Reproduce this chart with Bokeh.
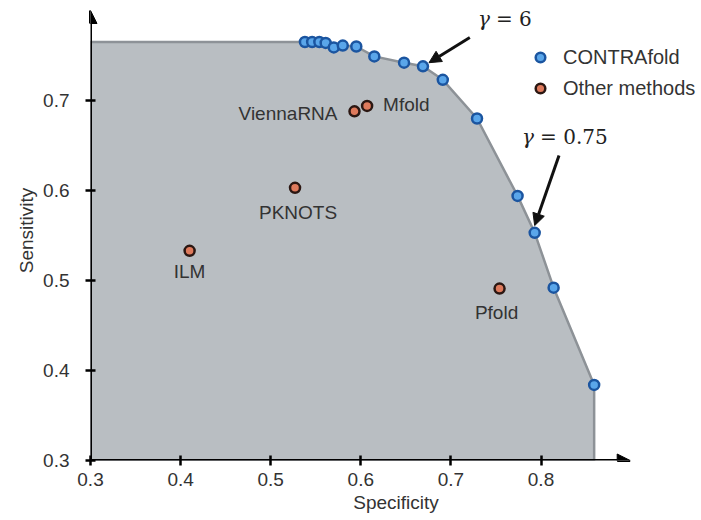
from bokeh.plotting import figure
from bokeh.models import (ColumnDataSource, Arrow, NormalHead, Legend, LegendItem,
                          FixedTicker)
from bokeh.core.properties import value
from bokeh.embed import file_html
from bokeh.resources import INLINE

# ---------------- data ----------------
contra_spec = [0.538, 0.546, 0.554, 0.561, 0.570, 0.580, 0.595, 0.615, 0.648,
               0.669, 0.691, 0.729, 0.774, 0.793, 0.814, 0.859]
contra_sens = [0.765, 0.765, 0.765, 0.764, 0.759, 0.761, 0.760, 0.749, 0.742,
               0.738, 0.723, 0.680, 0.594, 0.553, 0.492, 0.384]

other_names = ["ViennaRNA", "Mfold", "PKNOTS", "ILM", "Pfold"]
other_spec = [0.593, 0.607, 0.527, 0.410, 0.754]
other_sens = [0.688, 0.694, 0.603, 0.533, 0.491]

x_ticks = [0.3, 0.4, 0.5, 0.6, 0.7, 0.8]
y_ticks = [0.3, 0.4, 0.5, 0.6, 0.7]

gamma_symbol = ["γ", "γ"]
gamma_values = ["= 6", "= 0.75"]
gamma_index = [9, 13]            # which CONTRAfold point each label refers to
gamma_text_x = [0.730, 0.779]    # left edge of each label
gamma_text_y = [0.791, 0.660]
gamma_tail_x = [0.721, 0.820]
gamma_tail_y = [0.770, 0.639]

# ---------------- styles ----------------
label_dx = [-17, 16, 3, 0, -3]
label_dy = [2, -1, 25, 21, 24]
label_align = ["right", "left", "center", "center", "center"]

SANS = "Liberation Sans"
TXT = "#333333"

p = figure(width=701, height=520, output_backend="svg", toolbar_location=None,
           x_range=(0.3, 0.3 + 611 / 901), y_range=(0.3, 0.3 + 460 / 900),
           min_border_left=90, min_border_right=0, min_border_top=0,
           min_border_bottom=60)
p.outline_line_color = None
p.grid.visible = False
p.background_fill_color = "white"

# shaded region under the CONTRAfold curve
plateau = max(contra_sens)
poly_x = [0.3, 0.3] + contra_spec + [contra_spec[-1]]
poly_y = [0.3, plateau] + contra_sens + [0.3]
p.patch(poly_x, poly_y, fill_color="#b9bec2", line_color="#8d9297", line_width=2.5)

# axes
for ax in (p.xaxis[0], p.yaxis[0]):
    ax.axis_line_color = None
    ax.major_tick_in = 5
    ax.major_tick_out = 5
    ax.major_tick_line_width = 2.5
    ax.major_tick_line_color = "black"
    ax.minor_tick_line_color = None
    ax.major_label_text_font = SANS
    ax.major_label_text_font_size = "19px"
    ax.major_label_text_color = TXT
    ax.axis_label_text_font = SANS
    ax.axis_label_text_font_size = "19px"
    ax.axis_label_text_font_style = "normal"
    ax.axis_label_text_color = TXT
p.xaxis.ticker = FixedTicker(ticks=x_ticks)
p.yaxis.ticker = FixedTicker(ticks=y_ticks)
p.xaxis.axis_label = "Specificity"
p.yaxis.axis_label = "Sensitivity"
p.xaxis.major_label_standoff = 7
p.xaxis.axis_label_standoff = 3
p.yaxis.major_label_standoff = 16
p.yaxis.axis_label_standoff = 3

# axis arrows
p.add_layout(Arrow(x_start=0.3, y_start=0.3, x_end=0.899, y_end=0.3,
                   line_width=3, line_color="black",
                   end=NormalHead(size=13, fill_color="black", line_color="black")))
p.add_layout(Arrow(x_start=0.3, y_start=0.3, x_end=0.3, y_end=0.8,
                   line_width=3, line_color="black",
                   end=NormalHead(size=13, fill_color="black", line_color="black")))

# points
csrc = ColumnDataSource(dict(x=contra_spec, y=contra_sens))
osrc = ColumnDataSource(dict(x=other_spec, y=other_sens, name=other_names,
                             dx=label_dx, dy=label_dy, align=label_align))
r_c = p.scatter("x", "y", source=csrc, size=10, fill_color="#5aa6ea",
                line_color="#1b55a0", line_width=2.5)
r_o = p.scatter("x", "y", source=osrc, size=10, fill_color="#de7a5c",
                line_color="#2b1712", line_width=2.5)

p.text("x", "y", text="name", source=osrc, x_offset="dx", y_offset="dy",
       text_align="align", text_baseline="middle", text_font=value(SANS),
       text_font_size="19px", text_color=TXT)

# gamma annotations
for i, idx in enumerate(gamma_index):
    hx = contra_spec[idx] + (0.0067 if i == 0 else 0.0)
    hy = contra_sens[idx] + (0.004 if i == 0 else 0.008)
    p.add_layout(Arrow(x_start=gamma_tail_x[i], y_start=gamma_tail_y[i],
                       x_end=hx, y_end=hy, line_width=3, line_color="#111111",
                       end=NormalHead(size=12, fill_color="#111111",
                                      line_color="#111111")))
gsrc = ColumnDataSource(dict(x=gamma_text_x, y=gamma_text_y, s=gamma_symbol,
                             v=gamma_values))
p.text("x", "y", text="s", source=gsrc, text_align="left",
       text_baseline="middle", text_font=value("DejaVu Serif"),
       text_font_style="italic", text_font_size="20px", text_color="#222222")
p.text("x", "y", text="v", source=gsrc, text_align="left", x_offset=18,
       text_baseline="middle", text_font=value("DejaVu Serif"),
       text_font_size="20px", text_color="#222222")

legend = Legend(items=[LegendItem(label="CONTRAfold", renderers=[r_c]),
                       LegendItem(label="Other methods", renderers=[r_o])],
                location=(438, 360), padding=0, spacing=7,
                glyph_width=24, glyph_height=24, label_standoff=11,
                label_text_font=SANS, label_text_font_size="20px",
                label_text_color=TXT, border_line_color=None,
                background_fill_alpha=0)
p.add_layout(legend)

open("out.html", "w").write(file_html(p, INLINE))
